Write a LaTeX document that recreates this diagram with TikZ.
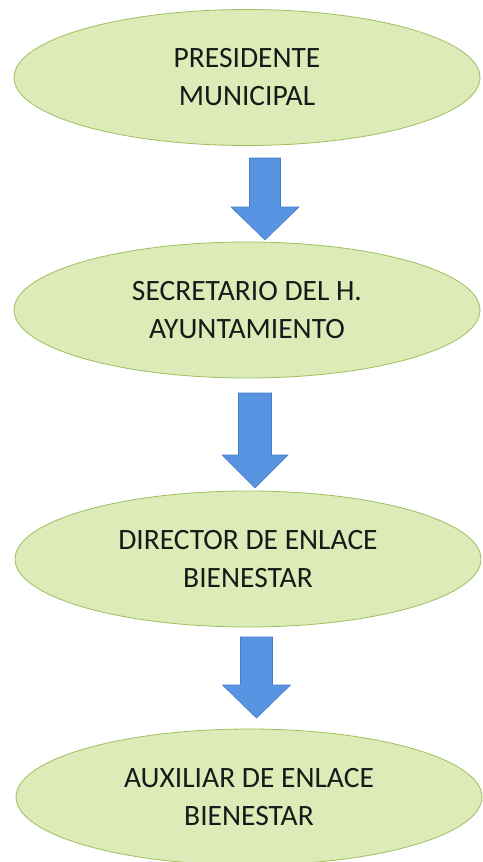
\documentclass[tikz,border=0pt]{standalone}
\usepackage{fontspec}
\setmainfont{Carlito}
\usetikzlibrary{shapes.geometric}
\definecolor{ellfill}{RGB}{220,235,183}
\definecolor{elldraw}{RGB}{160,190,95}
\definecolor{arrfill}{RGB}{88,148,226}
\definecolor{arrdraw}{RGB}{70,125,200}
\definecolor{txt}{RGB}{25,25,25}
\tikzset{
  role/.style={ellipse, draw=elldraw, line width=0.8pt, fill=ellfill,
    minimum width=466pt, minimum height=136pt, inner sep=0pt,
    align=center, text=txt, font=\fontsize{29.5}{38}\selectfont},
  blockarrow/.style={fill=arrfill, draw=arrdraw, line width=0.6pt, line join=miter}
}
\newcommand{\downarrowblock}[6]{% cx, top, shaft half, head half, head start, tip
  \draw[blockarrow] (#1-#3,#2) -- (#1+#3,#2) -- (#1+#3,#5) -- (#1+#4,#5) -- (#1,#6) -- (#1-#4,#5) -- (#1-#3,#5) -- cycle;}
\begin{document}
\begin{tikzpicture}[x=1pt,y=-1pt]
\useasboundingbox (0,0) rectangle (482,862);
\node[role] (pres) at (247,77.5) {PRESIDENTE\\MUNICIPAL};
\node[role] (secr) at (247,310) {SECRETARIO DEL H.\\AYUNTAMIENTO};
\node[role] (dir) at (248,559) {DIRECTOR DE ENLACE\\BIENESTAR};
\node[role] (aux) at (249,797) {AUXILIAR DE ENLACE\\BIENESTAR};
\downarrowblock{265}{158}{15.5}{34}{207}{240}
\downarrowblock{255}{393}{16.5}{33}{455}{488}
\downarrowblock{256.5}{637}{16}{34}{685}{718}
\end{tikzpicture}
\end{document}
